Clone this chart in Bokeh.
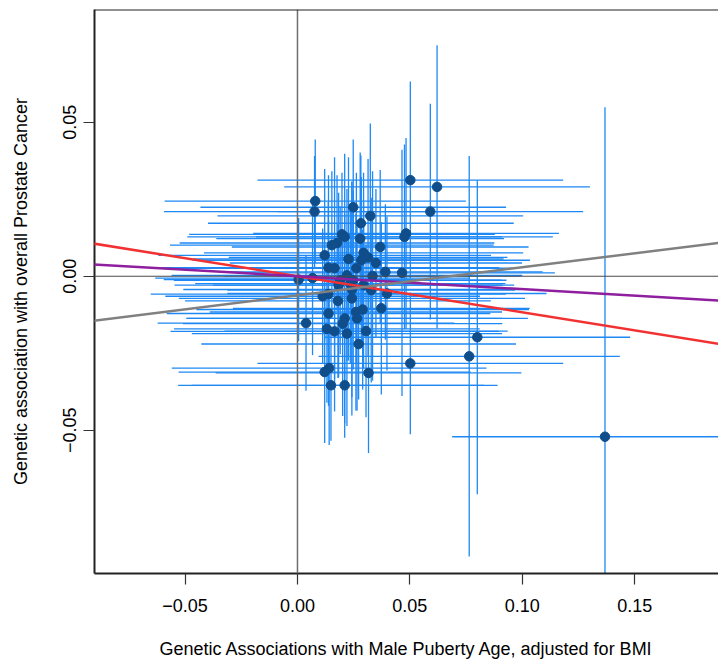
from bokeh.plotting import figure
from bokeh.models import Span, Slope, FixedTicker, Range1d, ColumnDataSource
from bokeh.embed import file_html
from bokeh.resources import INLINE

# SNP associations: exposure (x) and outcome (y), with 95% CI half-widths
bx = [0.0502, 0.0621, 0.0079, 0.0076, 0.0248, 0.0591, 0.0324, 0.0282, 0.0198, 0.0210,
      0.0279, 0.0483, 0.0476, 0.0153, 0.0176, 0.0368, 0.0121, 0.0294, 0.0314, 0.0284,
      0.0227, 0.0349, 0.0138, 0.0165, 0.0391, 0.0465, 0.0220, 0.0334, 0.0005, 0.0183,
      0.0235, 0.0242, 0.0328, 0.0398, 0.0112, 0.0242, 0.0180, 0.0373, 0.0138, 0.0290,
      0.0260, 0.0210, 0.0265, 0.0038, 0.0201, 0.0131, 0.0165, 0.0220, 0.0305, 0.0272,
      0.0502, 0.0121, 0.0141, 0.0316, 0.0149, 0.0210, 0.0067, 0.0764, 0.0800, 0.1368,
      0.0137, 0.0294, 0.0190, 0.0262, 0.0248]
by = [0.0312, 0.0290, 0.0244, 0.0210, 0.0224, 0.0210, 0.0196, 0.0172, 0.0136, 0.0128,
      0.0122, 0.0139, 0.0128, 0.0101, 0.0108, 0.0095, 0.0068, 0.0076, 0.0061, 0.0052,
      0.0056, 0.0043, 0.0028, 0.0026, 0.0014, 0.0011, 0.0003, 0.0001, -0.0011, -0.0029,
      -0.0024, -0.0043, -0.0045, -0.0056, -0.0065, -0.0072, -0.0080, -0.0104, -0.0121, -0.0108,
      -0.0116, -0.0137, -0.0137, -0.0152, -0.0154, -0.0171, -0.0179, -0.0186, -0.0178, -0.0220,
      -0.0283, -0.0311, -0.0298, -0.0314, -0.0354, -0.0354, -0.0006, -0.0260, -0.0198, -0.0521,
      -0.0058, -0.0029, -0.0013, 0.0026, -0.0013]
ci_x = [0.068, 0.068, 0.067, 0.067, 0.068, 0.068, 0.068, 0.068, 0.068, 0.070,
        0.064, 0.068, 0.066, 0.072, 0.070, 0.066, 0.074, 0.071, 0.062, 0.075,
        0.069, 0.065, 0.076, 0.072, 0.070, 0.068, 0.078, 0.066, 0.060, 0.073,
        0.069, 0.075, 0.064, 0.071, 0.070, 0.077, 0.068, 0.066, 0.072, 0.074,
        0.065, 0.070, 0.076, 0.066, 0.071, 0.068, 0.073, 0.069, 0.063, 0.070,
        0.068, 0.065, 0.070, 0.068, 0.068, 0.068, 0.070, 0.067, 0.068, 0.068,
        0.079, 0.067, 0.074, 0.071, 0.066]
ci_y = [0.032, 0.046, 0.020, 0.018, 0.022, 0.035, 0.030, 0.022, 0.020, 0.027,
        0.028, 0.031, 0.030, 0.024, 0.022, 0.025, 0.028, 0.026, 0.032, 0.027,
        0.033, 0.024, 0.030, 0.036, 0.022, 0.040, 0.028, 0.034, 0.020, 0.030,
        0.026, 0.035, 0.030, 0.025, 0.022, 0.038, 0.025, 0.028, 0.030, 0.026,
        0.032, 0.034, 0.030, 0.022, 0.030, 0.024, 0.026, 0.030, 0.028, 0.018,
        0.023, 0.023, 0.025, 0.026, 0.018, 0.017, 0.025, 0.065, 0.051, 0.107,
        0.030, 0.027, 0.024, 0.031, 0.029]

# fitted MR lines: (slope, intercept, colour)
line_slopes = [-0.117, -0.042, 0.091]
line_intercepts = [0.0, 0.0, -0.0062]
line_colors = ["#F23232", "#8E1F9E", "#808080"]

x_ticks = [-0.05, 0.0, 0.05, 0.10, 0.15]
x_labels = ["\u22120.05", "0.00", "0.05", "0.10", "0.15"]
y_ticks = [-0.05, 0.0, 0.05]
y_labels = ["\u22120.05", "0.00", "0.05"]
x_lim = (-0.0903, 0.1873)
y_lim = (-0.0965, 0.0866)

src = ColumnDataSource(dict(
    x=bx, y=by,
    x0=[a - b for a, b in zip(bx, ci_x)], x1=[a + b for a, b in zip(bx, ci_x)],
    y0=[a - b for a, b in zip(by, ci_y)], y1=[a + b for a, b in zip(by, ci_y)],
))

p = figure(width=718, height=664, output_backend="svg", toolbar_location=None,
           x_range=Range1d(*x_lim), y_range=Range1d(*y_lim),
           min_border_left=94, min_border_right=0, min_border_top=9, min_border_bottom=91)
p.grid.visible = False
p.outline_line_color = None
p.background_fill_color = "white"
p.border_fill_color = "white"

FONT = "Liberation Sans"

# error bars
p.segment(x0="x0", x1="x1", y0="y", y1="y", source=src, line_color="#1E88F5", line_width=1.3)
p.segment(x0="x", x1="x", y0="y0", y1="y1", source=src, line_color="#1E88F5", line_width=1.3)

# zero lines
p.add_layout(Span(location=0, dimension="height", line_color="#6E6E6E", line_width=1.5))
p.add_layout(Span(location=0, dimension="width", line_color="#4A4A4A", line_width=1.2))

# fitted lines
for s, b, c in zip(line_slopes, line_intercepts, line_colors):
    p.add_layout(Slope(gradient=s, y_intercept=b, line_color=c, line_width=2.5))

# points
p.scatter("x", "y", source=src, size=9.5, fill_color="#104E8B", line_color="#104E8B")

# top border (box)
p.add_layout(Span(location=y_lim[1], dimension="width", line_color="#222222", line_width=2))

for ax, ticks, labels in ((p.xaxis[0], x_ticks, x_labels), (p.yaxis[0], y_ticks, y_labels)):
    ax.ticker = FixedTicker(ticks=ticks)
    ax.major_label_overrides = {t: l for t, l in zip(ticks, labels)}
    ax.minor_tick_line_color = None
    ax.major_tick_in = 0
    ax.major_tick_out = 11
    ax.major_tick_line_color = "#333333"
    ax.major_tick_line_width = 1.2
    ax.axis_line_color = "#222222"
    ax.axis_line_width = 2
    ax.major_label_text_font = FONT
    ax.major_label_text_font_size = "18px"
    ax.major_label_text_color = "black"
    ax.axis_label_text_font = FONT
    ax.axis_label_text_font_size = "18px"
    ax.axis_label_text_font_style = "normal"
    ax.axis_label_text_color = "black"

p.xaxis.axis_label = "Genetic Associations with Male Puberty Age, adjusted for BMI"
p.yaxis.axis_label = "Genetic association with overall Prostate Cancer"
p.xaxis.major_label_standoff = 14
p.xaxis.axis_label_standoff = 24
p.yaxis.major_label_orientation = "vertical"
p.yaxis.major_label_standoff = 7
p.yaxis.axis_label_standoff = 30

open("out.html", "w").write(file_html(p, INLINE))
